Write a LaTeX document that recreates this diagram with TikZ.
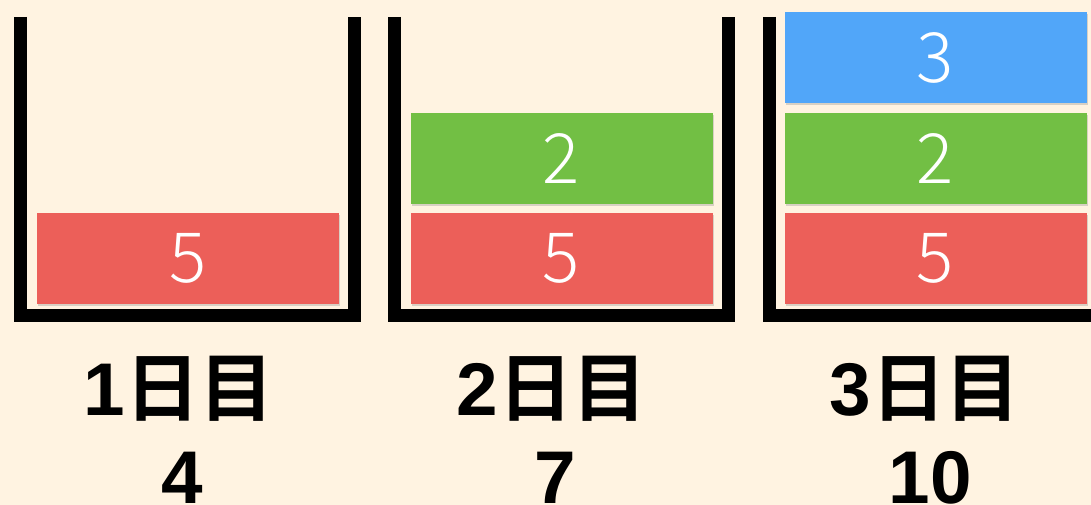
\documentclass[tikz,border=0pt]{standalone}
\usepackage{fontspec}
\newfontfamily\dayfont{Noto Sans CJK JP Bold}
\newfontfamily\digitfont{Liberation Sans Bold}
\newfontfamily\numfont{Noto Sans CJK JP Light}
\usetikzlibrary{shadows}
\definecolor{cream}{HTML}{FFF3E1}
\definecolor{blockred}{HTML}{EC5F59}
\definecolor{blockgreen}{HTML}{72BF44}
\definecolor{blockblue}{HTML}{51A6F9}

\begin{document}
\begin{tikzpicture}[x=0.75pt,y=-0.75pt,
    wall/.style={line width=9.75pt,line join=miter},
    block/.style={minimum width=226.5pt,minimum height=68.25pt,inner sep=0pt,text=white,
      font=\numfont\fontsize{52}{52}\selectfont,
      drop shadow={shadow xshift=1pt,shadow yshift=-1.5pt,opacity=0.3}},
    daylabel/.style={anchor=base,inner sep=0pt,font=\dayfont\fontsize{56}{56}\selectfont}
  ]
  \fill[cream] (0,0) rectangle (1091,505);
  \useasboundingbox (0,0) rectangle (1091,505);
  \foreach \xx in {0,373.5,748.5}{
    \draw[wall] (20.5+\xx,17) -- (20.5+\xx,315.5) -- (354.5+\xx,315.5) -- (354.5+\xx,17);
  }
  \node[block,fill=blockred] (r1) at (188,258.5) {5};
  \node[block,fill=blockred] (r2) at (561.5,258.5) {5};
  \node[block,fill=blockgreen] (g2) at (561.5,158.5) {2};
  \node[block,fill=blockred] (r3) at (935.5,258.5) {5};
  \node[block,fill=blockgreen] (g3) at (935.5,158.5) {2};
  \node[block,fill=blockblue] (b3) at (935.5,57.5) {3};
  \foreach \d/\x/\xs/\s in {1/179/182/4,2/552/555/7,3/925/930/10}{
    \node[daylabel] (day\d) at (\x,416) {{\digitfont\d}日目};
    \node[daylabel] (sum\d) at (\xs,503) {\digitfont\s};
  }
\end{tikzpicture}
\end{document}
